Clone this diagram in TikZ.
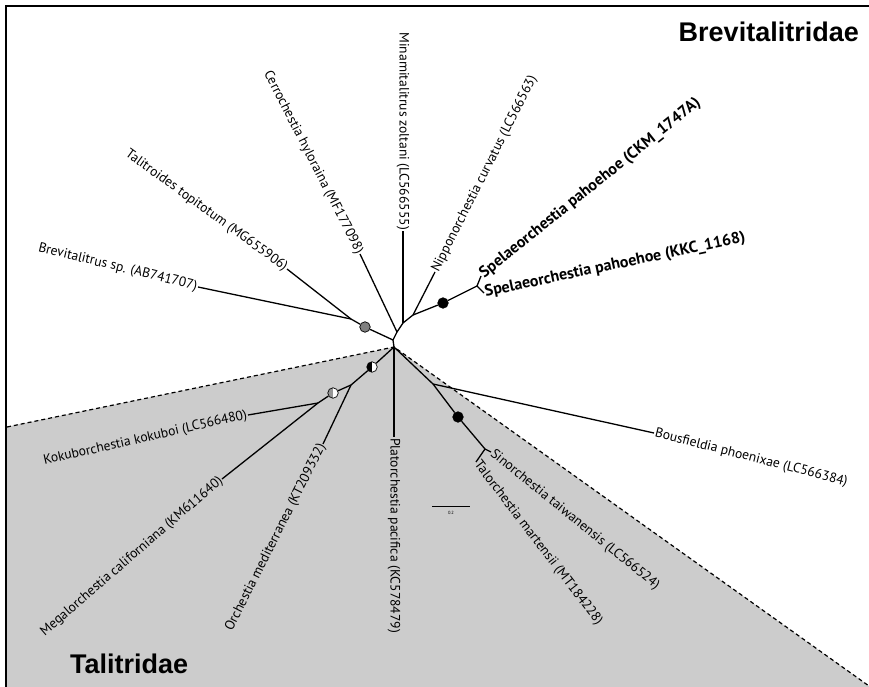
\documentclass[tikz,border=0pt]{standalone}
\usepackage{fontspec}
\setmainfont{PT Sans}
\newfontfamily\titlefont{Liberation Sans}
\definecolor{talgray}{RGB}{204,204,204}
\definecolor{supgray}{RGB}{128,128,128}
\definecolor{halfgray}{RGB}{150,150,150}
\begin{document}
\begin{tikzpicture}[x=1pt,y=-1pt,
  br/.style={line width=1.3pt},
  lab/.style={font=\fontsize{13.6}{15}\selectfont, inner sep=1pt},
  blab/.style={lab, font=\fontsize{16}{18}\selectfont\bfseries},
  ttl/.style={font=\titlefont\bfseries\fontsize{27}{29}\selectfont, inner sep=0pt},
  sup/.style={circle, draw=black, line width=0.7pt, minimum size=10.5pt, inner sep=0pt},
  halfblack/.style={sup, fill=white, path picture={\fill[black] (path picture bounding box.north west) rectangle (path picture bounding box.south);}},
  halfgr/.style={sup, fill=white, path picture={\fill[halfgray] (path picture bounding box.north west) rectangle (path picture bounding box.south);}},
  clade/.style={line width=1.2pt, dash pattern=on 4pt off 3pt}
]
\useasboundingbox (0,0) rectangle (869,687);
% Talitridae region
\coordinate (R) at (394,347);
\coordinate (dl) at (7,427);
\coordinate (dr) at (869,686);
\fill[talgray] (6,427) -- (R) -- (dr) -- (869,687) -- (6,687) -- cycle;
\draw[clade] (dl) -- (R) -- (dr);

% internal points
\coordinate (A) at (393,340);
\coordinate (J) at (351,319);
\coordinate (B) at (397,332);
\coordinate (C) at (403,323);
\coordinate (D) at (413,315);
\coordinate (S) at (477,286);
\coordinate (E) at (351,385);
\coordinate (K) at (318,403);
\coordinate (F) at (433,384);
\coordinate (G) at (485,449);

% labels
\node[lab, rotate=-13.7, anchor=east] (tBrev) at (198,287) {Brevitalitrus sp. (AB741707)};
\node[lab, rotate=-35.9, anchor=east] (tTal) at (287,269) {Talitroides topitotum (MG655906)};
\node[lab, rotate=-62.9, anchor=east] (tCer) at (360,254) {Cerrochestia hyloraina (MF177098)};
\node[lab, rotate=-90, anchor=east] (tMin) at (403,231) {Minamitalitrus zoltani (LC566555)};
\node[lab, rotate=63.2, anchor=west] (tNip) at (435,272) {Nipponorchestia curvatus (LC566563)};
\node[blab, rotate=38.7, anchor=west] (tSp1) at (481,276) {Spelaeorchestia pahoehoe (CKM\_1747A)};
\node[blab, rotate=11.9, anchor=west] (tSp2) at (484,293) {Spelaeorchestia pahoehoe (KKC\_1168)};
\node[lab, rotate=12.8, anchor=east] (tKok) at (248,415) {Kokuborchestia kokuboi (LC566480)};
\node[lab, rotate=40.8, anchor=east] (tMeg) at (222,479) {Megalorchestia californiana (KM611640)};
\node[lab, rotate=63.2, anchor=east] (tOrc) at (323,444) {Orchestia mediterranea (KT209332)};
\node[lab, rotate=-90, anchor=west] (tPla) at (394,437) {Platorchestia pacifica (KC578479)};
\node[lab, rotate=-14.4, anchor=west] (tBou) at (654,433) {Bousfieldia phoenixae (LC566384)};
\node[lab, rotate=-39, anchor=west] (tSin) at (491,452) {Sinorchestia taiwanensis (LC566524)};
\node[lab, rotate=-52.6, anchor=west] (tTlo) at (476,462) {Talorchestia martensii (MT184228)};

% support circles
\node[sup, fill=supgray] (g1) at (365,327) {};
\node[sup, fill=black] (b1) at (443,303) {};
\node[halfblack] (h1) at (372,367) {};
\node[halfgr] (h2) at (333,393) {};
\node[sup, fill=black] (b2) at (458,417) {};

% branches: Brevitalitridae
\draw[br] (R) -- (A);
\draw[br] (A) -- (g1);
\draw[br] (g1) -- (J);
\draw[br] (J) -- (tBrev.east);
\draw[br] (J) -- (tTal.east);
\draw[br] (A) -- (B);
\draw[br] (B) -- (tCer.east);
\draw[br] (B) -- (C);
\draw[br] (C) -- (tMin.east);
\draw[br] (C) -- (D);
\draw[br] (D) -- (tNip.west);
\draw[br] (D) -- (b1);
\draw[br] (b1) -- (S);
\draw[br] (S) -- (tSp1.west);
\draw[br] (S) -- (tSp2.west);
% branches: Talitridae
\draw[br] (R) -- (h1);
\draw[br] (h1) -- (E);
\draw[br] (E) -- (tOrc.east);
\draw[br] (E) -- (h2);
\draw[br] (h2) -- (K);
\draw[br] (K) -- (tKok.east);
\draw[br] (K) -- (tMeg.east);
\draw[br] (R) -- (tPla.west);
\draw[br] (R) -- (F);
\draw[br] (F) -- (tBou.west);
\draw[br] (F) -- (b2);
\draw[br] (b2) -- (G);
\draw[br] (G) -- (tSin.west);
\draw[br] (G) -- (tTlo.west);

% scale bar
\coordinate (sb1) at (432,506);
\coordinate (sb2) at (470,506);
\draw[line width=0.9pt] (sb1) -- (sb2);
\node[font=\fontsize{4.5}{5}\selectfont, inner sep=0pt] (sbl) at (451,513) {0.2};

% titles
\node[ttl, anchor=base east] (tBre) at (859,42) {Brevitalitridae};
\node[ttl, anchor=base west] (tTali) at (70,673) {Talitridae};

% frame
\draw[line width=2.5pt] (6,687) -- (6,6) -- (869,6);
\end{tikzpicture}
\end{document}
